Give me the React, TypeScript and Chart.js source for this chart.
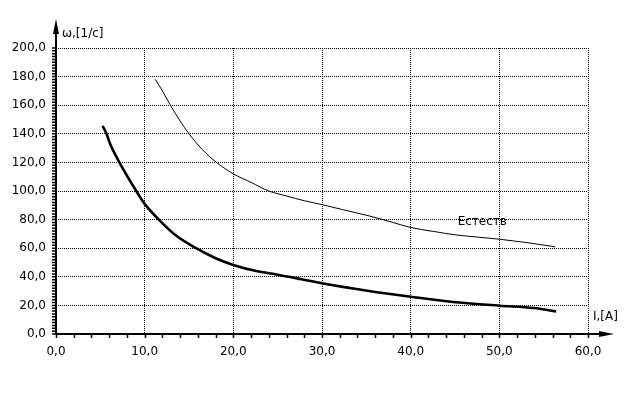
import React, { useEffect, useRef } from "react";
import { Chart, registerables } from "chart.js";

Chart.register(...registerables);

// Естественная характеристика (thin)
const naturalI = [11.2, 12.0, 12.9, 14.0, 15.0, 16.5, 18.1, 20.0, 22.0, 24.0, 26.0, 28.0, 30.0, 32.3, 35.3, 38.0, 40.0, 42.5, 45.1, 47.5, 50.0, 53.0, 56.3];
const naturalW = [178, 170, 160, 149, 140, 129, 120, 112, 106, 100, 96.5, 93.2, 90.5, 87, 82.6, 78, 74.5, 71.8, 69.3, 67.8, 66.3, 64, 61];

// Вторая характеристика (thick)
const secondI = [5.25, 5.7, 6.1, 7.15, 9.05, 10.0, 11.6, 13.5, 15.8, 18.0, 20.0, 22.6, 25.0, 27.7, 30.0, 35.3, 40.0, 45.1, 50.0, 53.9, 56.4];
const secondW = [145.5, 140, 133, 120, 100, 91, 80, 69, 60, 53, 48.3, 44, 41.5, 38.3, 35.5, 30.1, 26.1, 22.2, 19.8, 18.2, 15.8];

const xMin = 0, xMax = 60, xStep = 10, xMinor = 2;
const yMin = 0, yMax = 200, yStep = 20, yMinor = 2;

const yTitle = "ω,[1/с]";
const xTitle = "I,[A]";
const curveLabel = "Естеств";
const curveLabelI = 45.3;
const curveLabelW = 79.5;

const FONT = "'DejaVu Sans', sans-serif";

const fmt = (v: number) => v.toFixed(1).replace(".", ",");

const axesPlugin = {
  id: "axesPlugin",
  afterDraw(chart: any) {
    const { ctx, chartArea, scales } = chart;
    const x = scales.x, y = scales.y;
    const left = Math.round(x.getPixelForValue(xMin));
    const bottom = Math.round(y.getPixelForValue(yMin));
    ctx.save();
    ctx.strokeStyle = "#000";
    ctx.fillStyle = "#000";
    // minor ticks
    ctx.lineWidth = 1.5;
    ctx.beginPath();
    for (let v = xMin; v <= xMax + 1e-9; v += xMinor) {
      const px = Math.round(x.getPixelForValue(v)) + 0.5;
      ctx.moveTo(px, bottom);
      ctx.lineTo(px, bottom + 4);
    }
    for (let v = yMin; v <= yMax + 1e-9; v += yMinor) {
      const py = y.getPixelForValue(v);
      ctx.moveTo(left - 4, py);
      ctx.lineTo(left, py);
    }
    ctx.stroke();
    // axis lines
    ctx.lineWidth = 2;
    ctx.beginPath();
    ctx.moveTo(left, bottom);
    ctx.lineTo(left, chartArea.top - 22);
    ctx.moveTo(left, bottom);
    ctx.lineTo(chartArea.right + 18, bottom);
    ctx.stroke();
    // arrows
    ctx.beginPath();
    ctx.moveTo(left, chartArea.top - 29);
    ctx.lineTo(left - 3, chartArea.top - 14);
    ctx.lineTo(left + 3, chartArea.top - 14);
    ctx.closePath();
    ctx.fill();
    ctx.beginPath();
    ctx.moveTo(chartArea.right + 26, bottom);
    ctx.lineTo(chartArea.right + 11, bottom - 3);
    ctx.lineTo(chartArea.right + 11, bottom + 3);
    ctx.closePath();
    ctx.fill();
    // titles
    ctx.font = "12px " + FONT;
    ctx.textBaseline = "alphabetic";
    ctx.textAlign = "left";
    ctx.fillText(yTitle, left + 6, chartArea.top - 11);
    ctx.fillText(xTitle, chartArea.right + 5, bottom - 14);
    // curve label
    ctx.fillText(curveLabel, x.getPixelForValue(curveLabelI), y.getPixelForValue(curveLabelW) + 5);
    ctx.restore();
  },
};

export default function App() {
  const ref = useRef<HTMLCanvasElement | null>(null);
  useEffect(() => {
    if (!ref.current) return;
    const chart = new Chart(ref.current, {
      type: "scatter",
      data: {
        datasets: [
          {
            label: "natural",
            data: naturalI.map((v, i) => ({ x: v, y: naturalW[i] })),
            showLine: true,
            borderColor: "#000",
            borderWidth: 1,
            pointRadius: 0,
            cubicInterpolationMode: "monotone",
          },
          {
            label: "second",
            data: secondI.map((v, i) => ({ x: v, y: secondW[i] })),
            showLine: true,
            borderColor: "#000",
            borderWidth: 2.6,
            pointRadius: 0,
            cubicInterpolationMode: "monotone",
          },
        ],
      },
      options: {
        responsive: false,
        animation: false,
        layout: { padding: { left: 0, top: 48, right: 54, bottom: 30 } },
        plugins: { legend: { display: false }, tooltip: { enabled: false } },
        scales: {
          x: {
            type: "linear",
            min: xMin,
            max: xMax,
            afterFit: (s: any) => { s.height = 30; },
            ticks: {
              stepSize: xStep,
              padding: 11,
              color: "#000",
              font: { family: FONT, size: 12 },
              callback: (v: any) => fmt(Number(v)),
              maxRotation: 0,
            },
            grid: { color: "#000", lineWidth: 1, drawTicks: false },
            border: { display: false, dash: [1, 1] },
          },
          y: {
            type: "linear",
            min: yMin,
            max: yMax,
            afterFit: (s: any) => { s.width = 56; },
            ticks: {
              stepSize: yStep,
              padding: 10,
              color: "#000",
              font: { family: FONT, size: 12 },
              callback: (v: any) => fmt(Number(v)),
            },
            grid: { color: "#000", lineWidth: 1, drawTicks: false },
            border: { display: false, dash: [1, 1] },
          },
        },
      },
      plugins: [axesPlugin],
    } as any);
    return () => chart.destroy();
  }, []);
  return (
    <div style={{ position: "fixed", left: 0, top: 0, width: 642, height: 394, background: "#fff" }}>
      <canvas ref={ref} width={642} height={394} style={{ display: "block" }} />
    </div>
  );
}
